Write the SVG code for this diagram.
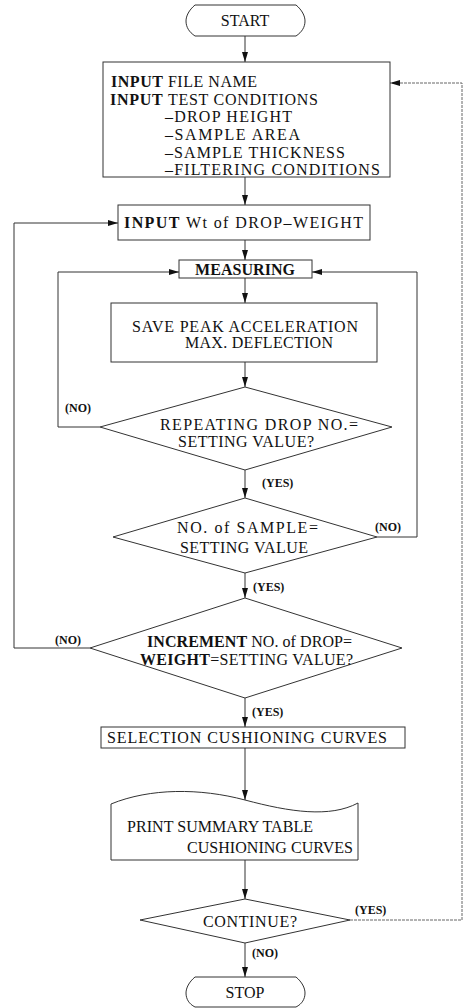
<svg xmlns="http://www.w3.org/2000/svg" width="464" height="1008" viewBox="0 0 464 1008">
  <style>
    .shape { fill: #ffffff; stroke: #333333; stroke-width: 1; }
    .wire { fill: none; stroke: #333333; stroke-width: 1; }
    .wire-far { fill: none; stroke: #666666; stroke-width: 1; stroke-dasharray: 3 1; }
    .t { font-family: "Liberation Serif", "Times New Roman", serif; font-size: 16px; fill: #111111; }
    .b { font-weight: bold; }
    .lbl { font-family: "Liberation Serif", "Times New Roman", serif; font-size: 12px; fill: #111111; font-weight: bold; }
  </style>
  <defs>
    <marker id="arrow" viewBox="0 0 10 6" refX="10" refY="3" markerWidth="10" markerHeight="6" markerUnits="userSpaceOnUse" orient="auto">
      <path d="M0,0 L10,3 L0,6 Z" fill="#111111"/>
    </marker>
  </defs>

  <rect width="464" height="1008" fill="#ffffff"/>

  <!-- connectors -->
  <g id="connectors">
    <line class="wire" x1="245" y1="36" x2="245" y2="62" marker-end="url(#arrow)"/>
    <line class="wire" x1="245" y1="177" x2="245" y2="205" marker-end="url(#arrow)"/>
    <line class="wire" x1="245" y1="240" x2="245" y2="260" marker-end="url(#arrow)"/>
    <line class="wire" x1="245" y1="278" x2="245" y2="303" marker-end="url(#arrow)"/>
    <line class="wire" x1="245" y1="362" x2="245" y2="387" marker-end="url(#arrow)"/>
    <polyline class="wire" points="100,427 58,427 58,272 179,272" marker-end="url(#arrow)"/>
    <line class="wire" x1="245" y1="470" x2="245" y2="498" marker-end="url(#arrow)"/>
    <polyline class="wire" points="377,537 417,537 417,272 312,272" marker-end="url(#arrow)"/>
    <line class="wire" x1="245" y1="573" x2="245" y2="598" marker-end="url(#arrow)"/>
    <polyline class="wire" points="90,648 14,648 14,223 118,223" marker-end="url(#arrow)"/>
    <line class="wire" x1="245" y1="698" x2="245" y2="727" marker-end="url(#arrow)"/>
    <line class="wire" x1="245" y1="748" x2="245" y2="800" marker-end="url(#arrow)"/>
    <line class="wire" x1="245" y1="860" x2="245" y2="899" marker-end="url(#arrow)"/>
    <polyline class="wire-far" points="350,920 462,920 462,83 390,83" marker-end="url(#arrow)"/>
    <line class="wire" x1="245" y1="943" x2="245" y2="977" marker-end="url(#arrow)"/>

    <text class="lbl" x="65" y="412">(NO)</text>
    <text class="lbl" x="262" y="487">(YES)</text>
    <text class="lbl" x="375" y="531">(NO)</text>
    <text class="lbl" x="253" y="591">(YES)</text>
    <text class="lbl" x="55" y="644">(NO)</text>
    <text class="lbl" x="252" y="716">(YES)</text>
    <text class="lbl" x="355" y="914">(YES)</text>
    <text class="lbl" x="252" y="957">(NO)</text>
  </g>

  <!-- start terminal -->
  <g id="start">
    <path class="shape" d="M195,5 L296,5 C302,10 305,16 305,21 C305,27 302,32 296,36 L195,36 C189,32 186,27 186,21 C186,16 189,10 195,5 Z"/>
    <text class="t" x="245" y="26" text-anchor="middle">START</text>
  </g>

  <!-- input file / test conditions -->
  <g id="input-conditions">
    <rect class="shape" x="103" y="62" width="287" height="115"/>
    <text class="t" x="111" y="87" textLength="146" lengthAdjust="spacing"><tspan class="b">INPUT</tspan> FILE NAME</text>
    <text class="t" x="110" y="105" textLength="208" lengthAdjust="spacing"><tspan class="b">INPUT</tspan> TEST CONDITIONS</text>
    <text class="t" x="165" y="122" textLength="127" lengthAdjust="spacing">–DROP HEIGHT</text>
    <text class="t" x="165" y="140" textLength="135" lengthAdjust="spacing">–SAMPLE AREA</text>
    <text class="t" x="165" y="158" textLength="180" lengthAdjust="spacing">–SAMPLE THICKNESS</text>
    <text class="t" x="165" y="175" textLength="215" lengthAdjust="spacing">–FILTERING CONDITIONS</text>
  </g>

  <!-- drop weight input -->
  <g id="input-weight">
    <rect class="shape" x="118" y="205" width="252" height="35"/>
    <text class="t" x="124" y="228" textLength="239" lengthAdjust="spacing"><tspan class="b">INPUT</tspan> Wt of DROP–WEIGHT</text>
  </g>

  <!-- measuring -->
  <g id="measuring">
    <rect class="shape" x="179" y="260" width="133" height="18"/>
    <text class="t b" x="195" y="275" textLength="100" lengthAdjust="spacing">MEASURING</text>
  </g>

  <!-- save results -->
  <g id="save-peak">
    <rect class="shape" x="111" y="303" width="266" height="59"/>
    <text class="t" x="132" y="332" textLength="226" lengthAdjust="spacing">SAVE PEAK ACCELERATION</text>
    <text class="t" x="185" y="348" textLength="148" lengthAdjust="spacing">MAX. DEFLECTION</text>
  </g>

  <!-- repeat count check -->
  <g id="check-repeat">
    <polygon class="shape" points="245,387 392,427 245,470 100,427"/>
    <text class="t" x="160" y="430" textLength="198" lengthAdjust="spacing">REPEATING DROP NO.=</text>
    <text class="t" x="178" y="447" textLength="136" lengthAdjust="spacing">SETTING VALUE?</text>
  </g>

  <!-- sample count check -->
  <g id="check-sample">
    <polygon class="shape" points="245,498 377,537 245,573 113,537"/>
    <text class="t" x="177" y="533" textLength="141" lengthAdjust="spacing">NO. of SAMPLE=</text>
    <text class="t" x="180" y="553" textLength="128" lengthAdjust="spacing">SETTING VALUE</text>
  </g>

  <!-- drop weight increment check -->
  <g id="check-weight">
    <polygon class="shape" points="245,598 402,648 245,698 90,648"/>
    <text class="t" x="147" y="647" textLength="205" lengthAdjust="spacing"><tspan class="b">INCREMENT</tspan> NO. of DROP=</text>
    <text class="t" x="140" y="665" textLength="213" lengthAdjust="spacing"><tspan class="b">WEIGHT</tspan>=SETTING VALUE?</text>
  </g>

  <!-- curve selection -->
  <g id="select-curves">
    <rect class="shape" x="101" y="727" width="304" height="21"/>
    <text class="t" x="107" y="743" textLength="280" lengthAdjust="spacing">SELECTION CUSHIONING CURVES</text>
  </g>

  <!-- printed output (document) -->
  <g id="print-summary">
    <path class="shape" d="M111,804 C150,788 200,788 245,800 S330,818 358,803 L358,860 L111,860 Z"/>
    <text class="t" x="127" y="832" textLength="186" lengthAdjust="spacing">PRINT SUMMARY TABLE</text>
    <text class="t" x="187" y="853" textLength="166" lengthAdjust="spacing">CUSHIONING CURVES</text>
  </g>

  <!-- continue check -->
  <g id="check-continue">
    <polygon class="shape" points="245,899 350,920 245,943 140,920"/>
    <text class="t" x="203" y="927" textLength="94" lengthAdjust="spacing">CONTINUE?</text>
  </g>

  <!-- stop terminal -->
  <g id="stop">
    <path class="shape" d="M195,977 L296,977 C302,982 305,988 305,993 C305,999 302,1004 296,1007 L195,1007 C189,1004 186,999 186,993 C186,988 189,982 195,977 Z"/>
    <text class="t" x="245" y="998" text-anchor="middle">STOP</text>
  </g>
</svg>
